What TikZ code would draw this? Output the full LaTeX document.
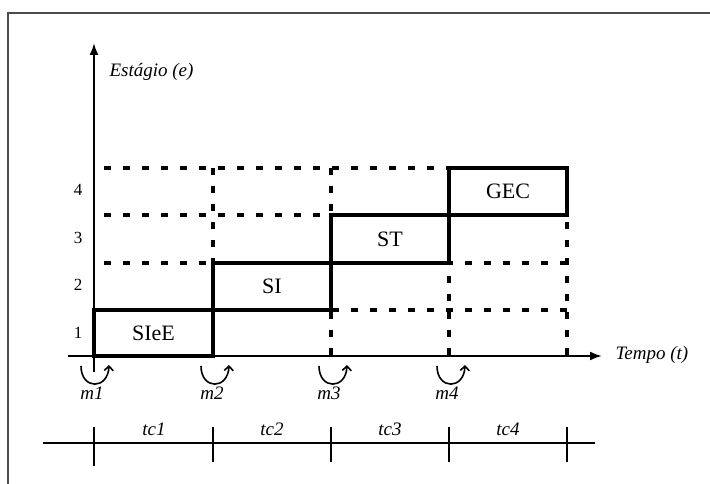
\documentclass[tikz,border=0pt]{standalone}
\usepackage{fontspec}
\setmainfont{Liberation Serif}
\usetikzlibrary{arrows.meta}
\begin{document}
\begin{tikzpicture}[x=1pt,y=-1pt,
  gridline/.style={line width=3.4pt, dash pattern=on 7pt off 12pt},
  vgridline/.style={line width=3.6pt, dash pattern=on 7pt off 11pt},
  stagebox/.style={draw, line width=3.8pt, inner sep=0pt, font=\fontsize{22}{26}\selectfont},
  lvl/.style={font=\fontsize{17}{20}\selectfont},
  ital/.style={font=\fontsize{19}{22}\selectfont\itshape},
  axisline/.style={line width=2pt},
  loopar/.style={line width=1.6pt, -{Straight Barb[length=4.5pt,width=9pt]}},
  tick/.style={line width=2pt},
  frame/.style={line width=2pt, draw=black!70}]
\useasboundingbox (0,0) rectangle (710,484);
% frame
\draw[frame] (8,484) -- (8,13) -- (710,13);
% dashed grid
\foreach \yy in {168,215,263,310}
  \draw[gridline] (104,\yy) -- (567,\yy);
\foreach \xx in {213,331,449,567}
  \draw[vgridline] (\xx,168) -- (\xx,356);
% axes
\coordinate (ybot) at (94,372);
\coordinate (ytop) at (94,43);
\coordinate (xl) at (68,356);
\coordinate (xr) at (602,356);
\draw[axisline,-{Latex[length=12pt,width=9pt]}] (ybot) -- (ytop);
\draw[axisline,-{Latex[length=12pt,width=9pt]}] (xl) -- (xr);
\node[ital,anchor=west] (ylab) at (106,72) {Estágio (e)};
\node[ital,anchor=west] (xlab) at (612,355) {Tempo (t)};
% level labels
\node[lvl] (l1) at (78,333) {1};
\node[lvl] (l2) at (78,285) {2};
\node[lvl] (l3) at (78,238) {3};
\node[lvl] (l4) at (78,190) {4};
% stage boxes
\node[stagebox, minimum width=119pt, minimum height=46pt] (s1) at (153.5,333) {SIeE};
\node[stagebox, minimum width=118pt, minimum height=47pt] (s2) at (272,286.5) {SI};
\node[stagebox, minimum width=118pt, minimum height=48pt] (s3) at (390,239) {ST};
\node[stagebox, minimum width=118pt, minimum height=47pt] (s4) at (508,191.5) {GEC};
% milestone loops
\foreach \xx/\nm/\lx in {95/1/92,215/2/212,333/3/329,451/4/447}{
  \draw[loopar] (\xx-14,366) .. controls (\xx-14,390) and (\xx+13,390) .. (\xx+14,365);
  \node[ital] (m\nm) at (\lx,393) {m\nm};
}
% timeline
\coordinate (tl) at (43,443);
\coordinate (tr) at (595,443);
\draw[tick] (tl) -- (tr);
\draw[tick] (94,427) -- (94,466);
\foreach \xx in {213,331,449,567}
  \draw[tick] (\xx,427) -- (\xx,462);
\node[ital] (tc1) at (154,429) {tc1};
\node[ital] (tc2) at (272,429) {tc2};
\node[ital] (tc3) at (390,429) {tc3};
\node[ital] (tc4) at (508,429) {tc4};
\end{tikzpicture}
\end{document}
